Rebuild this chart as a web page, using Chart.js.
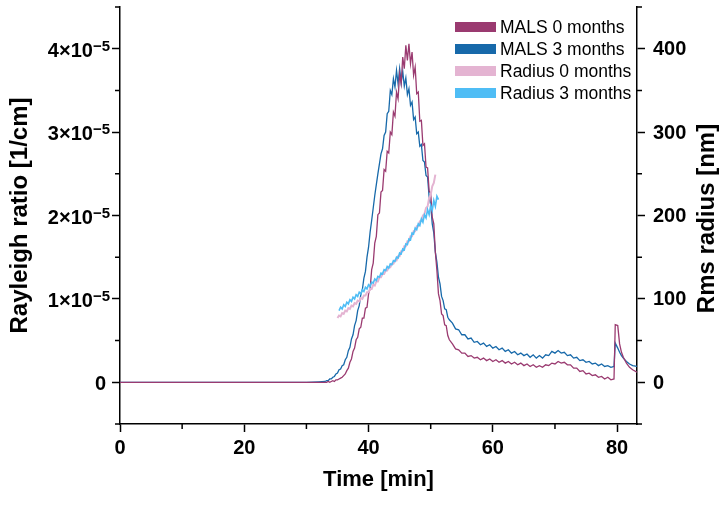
<!DOCTYPE html>
<html>
<head>
<meta charset="utf-8">
<script src="https://cdn.jsdelivr.net/npm/chart.js@4.4.0/dist/chart.umd.min.js"></script>
<style>
  html, body { margin: 0; padding: 0; background: #fff; }
  #wrap { width: 724px; height: 505px; position: relative; }
</style>
</head>
<body>
<div id="wrap"><canvas id="myChart"></canvas></div>
<script>
// time axis of the MALS traces [min]
const malsTime = [0, 5, 10, 15, 20, 25, 30, 31, 32,
  33, 33.25, 33.5, 33.75, 34, 34.25, 34.5, 34.75, 35, 35.25, 35.5, 35.75, 36, 36.25, 36.5, 36.75,
  37, 37.25, 37.5, 37.75, 38, 38.25, 38.5, 38.75, 39, 39.25, 39.5, 39.75, 40, 40.25, 40.5, 40.75,
  41, 41.25, 41.5, 41.75, 42, 42.25, 42.5, 42.75, 43, 43.25, 43.5, 43.75, 44, 44.25, 44.5, 44.75,
  45, 45.25, 45.5, 45.75, 46, 46.25, 46.5, 46.75, 47, 47.25, 47.5, 47.75, 48, 48.25, 48.5, 48.75,
  49, 49.25, 49.5, 49.75, 50, 50.25, 50.5, 50.75, 51, 51.25, 51.5, 51.75, 52, 52.25, 52.5, 52.75, 53,
  53.5, 54, 54.5, 55, 55.5, 56, 56.5, 57, 57.5, 58, 58.5, 59, 59.5, 60, 60.5, 61, 61.5, 62, 62.5,
  63, 63.5, 64, 64.5, 65, 65.5, 66, 66.5, 67, 67.5, 68, 68.5, 69, 69.5, 70, 70.5, 71, 71.5, 72, 72.5,
  73, 73.5, 74, 74.5, 75, 75.5, 76, 76.5, 77, 77.5, 78, 78.5, 79, 79.5,
  79.6, 79.7, 80.1, 80.4, 80.7, 81, 81.5, 82, 82.5, 83.2];

// Rayleigh ratio, in units of 1e-5 1/cm
const mals0 = [0, 0, 0, 0, 0, 0, 0, 0, 0,
  0.00, 0.00, 0.01, 0.00, 0.01, 0.02, 0.01, 0.03, 0.03, 0.04, 0.05, 0.06, 0.08, 0.10, 0.14, 0.17,
  0.24, 0.28, 0.37, 0.41, 0.51, 0.54, 0.64, 0.66, 0.77, 0.77, 0.89, 0.90, 1.06, 1.12, 1.35, 1.43,
  1.67, 1.75, 2.01, 2.03, 2.28, 2.30, 2.55, 2.53, 2.77, 2.75, 3.00, 2.97, 3.24, 3.19, 3.48, 3.40,
  3.70, 3.58, 3.90, 3.76, 4.04, 3.86, 4.06, 3.82, 3.96, 3.68, 3.78, 3.46, 3.48, 3.13, 3.14, 2.84,
  2.86, 2.58, 2.57, 2.29, 2.27, 1.98, 1.90, 1.56, 1.34, 1.06, 0.98, 0.82, 0.80, 0.69, 0.68, 0.56, 0.51,
  0.46, 0.40, 0.39, 0.35, 0.35, 0.31, 0.32, 0.29, 0.30, 0.27, 0.29, 0.26, 0.28, 0.25, 0.27, 0.24, 0.26, 0.23, 0.25,
  0.22, 0.24, 0.21, 0.23, 0.20, 0.22, 0.19, 0.21, 0.18, 0.20, 0.18, 0.21, 0.20, 0.23, 0.22, 0.25, 0.23, 0.24, 0.21, 0.21,
  0.17, 0.17, 0.13, 0.14, 0.10, 0.11, 0.08, 0.09, 0.06, 0.07, 0.04, 0.06, 0.03, 0.04,
  0.04, 0.69, 0.68, 0.46, 0.36, 0.30, 0.23, 0.18, 0.15, 0.12];

const mals3 = [0, 0, 0, 0, 0, 0, 0, 0.003, 0.006,
  0.01, 0.02, 0.02, 0.04, 0.04, 0.06, 0.07, 0.10, 0.11, 0.15, 0.16, 0.20, 0.21, 0.27, 0.30, 0.38,
  0.42, 0.52, 0.57, 0.68, 0.74, 0.86, 0.92, 1.05, 1.11, 1.25, 1.33, 1.50, 1.62, 1.80, 1.94, 2.09,
  2.24, 2.37, 2.50, 2.62, 2.74, 2.80, 2.96, 3.00, 3.22, 3.25, 3.50, 3.45, 3.64, 3.54, 3.74, 3.58,
  3.76, 3.59, 3.73, 3.55, 3.65, 3.45, 3.52, 3.32, 3.36, 3.15, 3.18, 2.98, 3.00, 2.83, 2.85, 2.66,
  2.64, 2.48, 2.46, 2.22, 2.13, 1.90, 1.79, 1.56, 1.44, 1.26, 1.18, 1.03, 0.98, 0.88, 0.87, 0.78, 0.75,
  0.71, 0.64, 0.63, 0.57, 0.57, 0.52, 0.53, 0.48, 0.49, 0.45, 0.47, 0.43, 0.45, 0.41, 0.43, 0.39, 0.41, 0.37, 0.39,
  0.35, 0.37, 0.33, 0.35, 0.32, 0.34, 0.30, 0.33, 0.29, 0.32, 0.29, 0.33, 0.32, 0.37, 0.35, 0.38, 0.35, 0.36, 0.32, 0.33,
  0.29, 0.30, 0.26, 0.27, 0.24, 0.25, 0.22, 0.23, 0.20, 0.22, 0.19, 0.20, 0.18, 0.19,
  0.19, 0.47, 0.41, 0.36, 0.32, 0.29, 0.25, 0.22, 0.20, 0.19];

// time axis of the radius traces [min]
const radiusTime = [35, 35.25, 35.5, 35.75, 36, 36.25, 36.5, 36.75, 37, 37.25, 37.5, 37.75,
  38, 38.25, 38.5, 38.75, 39, 39.25, 39.5, 39.75, 40, 40.25, 40.5, 40.75, 41, 41.25, 41.5, 41.75,
  42, 42.25, 42.5, 42.75, 43, 43.25, 43.5, 43.75, 44, 44.25, 44.5, 44.75, 45, 45.25, 45.5, 45.75,
  46, 46.25, 46.5, 46.75, 47, 47.25, 47.5, 47.75, 48, 48.25, 48.5, 48.75, 49, 49.25, 49.5, 49.75,
  50, 50.25, 50.5, 50.75, 51, 51.25];

// rms radius [nm]
const radius0 = [77, 80, 79, 83, 82, 86, 85, 89, 88, 92, 91, 95,
  94, 98, 97, 101, 100, 104, 104, 108, 108, 112, 112, 117, 116, 121, 121, 126,
  126, 130, 130, 134, 134, 138, 138, 142, 142, 146, 146, 151, 151, 157, 157, 163,
  163, 169, 169, 175, 175, 181, 181, 187, 187, 193, 194, 200, 202, 209, 211, 221,
  225, 235, 239, 249, null, null];

const radius3 = [null, 86, 90, 88, 93, 91, 96, 94, 99, 97, 102, 100,
  105, 103, 108, 106, 111, 109, 114, 112, 117, 115, 120, 119, 124, 122, 127, 126,
  131, 130, 135, 134, 139, 137, 142, 141, 146, 145, 150, 149, 155, 154, 160, 159,
  166, 165, 172, 171, 179, 178, 185, 183, 190, 188, 196, 192, 201, 197, 207, 201,
  212, 206, 218, 211, 223, 219];

const seriesNames = ['MALS 0 months', 'MALS 3 months', 'Radius 0 months', 'Radius 3 months'];
const seriesColors = ['#9a3a70', '#1769aa', '#e4b4d2', '#4fbdf5'];

const xMajor = [0, 20, 40, 60, 80];
const xMinor = [10, 30, 50, 70];
const yMajor = [0, 1, 2, 3, 4];            // x 1e-5
const yMinor = [-0.5, 0.5, 1.5, 2.5, 3.5, 4.5];
const y1Major = [0, 100, 200, 300, 400];
const y1Minor = [-50, 50, 150, 250, 350, 450];

const FONT = '"Liberation Sans", Arial, sans-serif';
Chart.defaults.font.family = FONT;
Chart.defaults.color = '#000';

function toPoints(xs, ys, factor) {
  const pts = [];
  xs.forEach((x, i) => { if (ys[i] !== null) pts.push({ x: x, y: ys[i] * factor }); });
  return pts;
}

const extras = {
  id: 'extras',
  afterDraw(chart) {
    const { ctx, chartArea: a, scales } = chart;
    const x = scales.x, y = scales.y, y1 = scales.y1;
    ctx.save();
    ctx.strokeStyle = '#000';
    ctx.lineWidth = 1.5;
    ctx.beginPath();
    xMinor.forEach(v => { const p = x.getPixelForValue(v); ctx.moveTo(p, a.bottom); ctx.lineTo(p, a.bottom + 5); });
    yMinor.forEach(v => { const p = y.getPixelForValue(v * 1e-5); ctx.moveTo(a.left - 5, p); ctx.lineTo(a.left, p); });
    y1Minor.forEach(v => { const p = y1.getPixelForValue(v); ctx.moveTo(a.right, p); ctx.lineTo(a.right + 5, p); });
    ctx.stroke();

    // left tick labels with superscript exponent
    ctx.fillStyle = '#000';
    ctx.textBaseline = 'alphabetic';
    ctx.textAlign = 'right';
    yMajor.forEach(v => {
      const p = y.getPixelForValue(v * 1e-5);
      if (v === 0) {
        ctx.font = 'bold 20px ' + FONT;
        ctx.fillText('0', 106, p + 8);
        return;
      }
      ctx.font = 'bold 15px ' + FONT;
      const sup = '\u22125';
      const w = ctx.measureText(sup).width;
      ctx.fillText(sup, 110, p + 2);
      ctx.font = 'bold 20px ' + FONT;
      ctx.fillText(v + '\u00d710', 110 - w, p + 8);
    });

    // right tick labels
    ctx.font = 'bold 20px ' + FONT;
    ctx.textAlign = 'left';
    ctx.textBaseline = 'middle';
    y1Major.forEach(v => { ctx.fillText(String(v), a.right + 16, y1.getPixelForValue(v) + 1); });

    // right axis title, reading bottom to top
    ctx.save();
    ctx.translate(707, (a.top + a.bottom) / 2 + 3);
    ctx.rotate(-Math.PI / 2);
    ctx.textAlign = 'center';
    ctx.textBaseline = 'middle';
    ctx.font = 'bold 24px ' + FONT;
    ctx.fillText('Rms radius [nm]', 0, 0);
    ctx.restore();

    // legend inside the plot
    ctx.font = '17.5px ' + FONT;
    ctx.textAlign = 'left';
    ctx.textBaseline = 'middle';
    seriesNames.forEach((name, i) => {
      const cy = 27 + i * 22;
      ctx.fillStyle = seriesColors[i];
      ctx.fillRect(455, cy - 5, 41, 10);
      ctx.fillStyle = '#000';
      ctx.fillText(name, 500, cy + 1);
    });
    ctx.restore();
  }
};

const axisGrid = { drawOnChartArea: false, drawTicks: true, tickLength: 8, tickColor: '#000', tickWidth: 1.5 };
const axisBorder = { display: true, color: '#000', width: 1.5 };

const ctx = document.getElementById('myChart').getContext('2d');
new Chart(ctx, {
  type: 'line',
  data: {
    datasets: [
      { label: seriesNames[0], data: toPoints(malsTime, mals0, 1e-5), borderColor: seriesColors[0], borderWidth: 1.3, yAxisID: 'y', order: 2 },
      { label: seriesNames[1], data: toPoints(malsTime, mals3, 1e-5), borderColor: seriesColors[1], borderWidth: 1.3, yAxisID: 'y', order: 3 },
      { label: seriesNames[2], data: toPoints(radiusTime, radius0, 1), borderColor: seriesColors[2], borderWidth: 2, yAxisID: 'y1', order: 1 },
      { label: seriesNames[3], data: toPoints(radiusTime, radius3, 1), borderColor: seriesColors[3], borderWidth: 1.6, yAxisID: 'y1', order: 0 }
    ]
  },
  options: {
    responsive: true,
    maintainAspectRatio: false,
    animation: false,
    events: [],
    layout: { padding: { top: 7, left: 0, right: 0, bottom: 0 } },
    elements: { point: { radius: 0 }, line: { tension: 0, fill: false } },
    plugins: { legend: { display: false }, tooltip: { enabled: false } },
    scales: {
      x: {
        type: 'linear', min: 0, max: 83.2,
        afterBuildTicks: s => { s.ticks = xMajor.map(v => ({ value: v })); },
        afterFit: s => { s.height = 81; },
        ticks: { font: { size: 20, weight: 'bold' }, padding: 4, maxRotation: 0 },
        grid: axisGrid, border: axisBorder,
        title: { display: true, text: 'Time [min]', font: { size: 22, weight: 'bold' }, padding: { top: 0, bottom: 12 } }
      },
      y: {
        position: 'left', min: -0.5e-5, max: 4.5e-5,
        afterBuildTicks: s => { s.ticks = yMajor.map(v => ({ value: v * 1e-5 })); },
        afterFit: s => { s.width = 120; },
        ticks: { display: false },
        grid: axisGrid, border: axisBorder,
        title: { display: true, text: 'Rayleigh ratio [1/cm]', font: { size: 24, weight: 'bold' }, padding: { top: 6, bottom: 0 } }
      },
      y1: {
        position: 'right', min: -50, max: 450,
        afterBuildTicks: s => { s.ticks = y1Major.map(v => ({ value: v })); },
        afterFit: s => { s.width = 87; },
        ticks: { display: false },
        grid: axisGrid, border: axisBorder
      }
    }
  },
  plugins: [extras]
});
</script>
</body>
</html>
